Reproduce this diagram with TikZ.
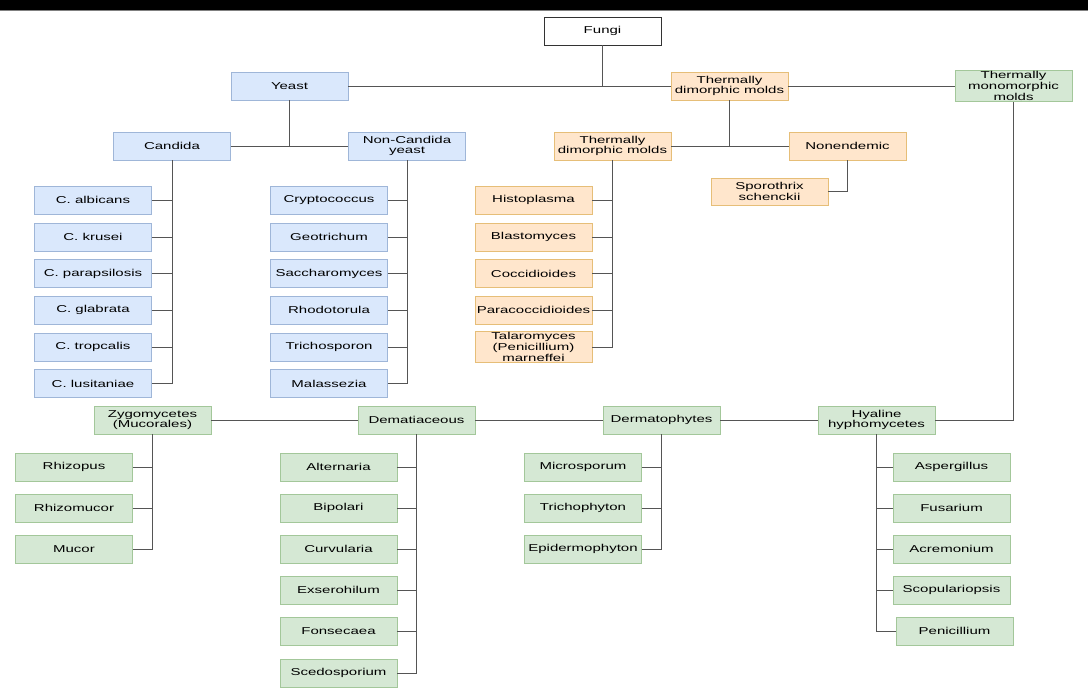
\documentclass[tikz,border=0pt]{standalone}
\usepackage{xcolor}
\usepackage{fontspec}
\newfontfamily\boxfont[FakeStretch=1.5]{Liberation Sans}

\definecolor{yeastfill}{HTML}{DAE8FC}
\definecolor{yeastline}{HTML}{9FB6D8}
\definecolor{dimfill}{HTML}{FFE6CC}
\definecolor{dimline}{HTML}{E6BE78}
\definecolor{monofill}{HTML}{D5E8D4}
\definecolor{monoline}{HTML}{A3C79A}
\definecolor{linkgray}{HTML}{555555}

\tikzset{
  box/.style={draw, line width=0.6pt, minimum width=87.75pt, minimum height=21pt, inner sep=1pt, align=center, font=\boxfont\fontsize{7.5}{6.9}\selectfont},
  rootbox/.style={box, draw=black!80, fill=white},
  yeastbox/.style={box, draw=yeastline, fill=yeastfill},
  dimbox/.style={box, draw=dimline, fill=dimfill},
  monobox/.style={box, draw=monoline, fill=monofill},
  link/.style={draw=linkgray, line width=0.75pt},
}

\begin{document}
\begin{tikzpicture}[x=0.75pt,y=0.75pt,yscale=-1,xscale=1]
\useasboundingbox (0,0) rectangle (1088,690);
%top band
\fill[black] (0,0) rectangle (1088,10);
\draw[gray, line width=0.75pt] (0,10.5) -- (1088,10.5);

% Text Node: root and first level
\node[rootbox] (fungi) at (602.5,31) {Fungi};
\node[yeastbox] (yeast) at (289.5,86) {Yeast};
\node[dimbox] (tdm) at (729.5,86) {Thermally\\dimorphic molds};
\node[monobox] (tmm) at (1013.5,86) {Thermally\\monomorphic\\molds};

% Text Node: yeast branch
\node[yeastbox] (candida) at (172,146) {Candida};
\node[yeastbox] (noncand) at (407,146) {Non-Candida\\yeast};
\node[yeastbox] (calb) at (93,200) {C. albicans};
\node[yeastbox] (ckru) at (93,237) {C. krusei};
\node[yeastbox] (cpar) at (93,273.5) {C. parapsilosis};
\node[yeastbox] (cgla) at (93,310) {C. glabrata};
\node[yeastbox] (ctro) at (93,347) {C. tropcalis};
\node[yeastbox] (clus) at (93,383.5) {C. lusitaniae};
\node[yeastbox] (crypto) at (329,200) {Cryptococcus};
\node[yeastbox] (geo) at (329,237) {Geotrichum};
\node[yeastbox] (sacch) at (329,273.5) {Saccharomyces};
\node[yeastbox] (rhodo) at (329,310) {Rhodotorula};
\node[yeastbox] (tricho) at (329,347) {Trichosporon};
\node[yeastbox] (mala) at (329,383.5) {Malassezia};

% Text Node: dimorphic branch
\node[dimbox] (tdmsub) at (612.5,146) {Thermally\\dimorphic molds};
\node[dimbox] (nonend) at (847.5,146) {Nonendemic};
\node[dimbox, minimum height=20.25pt] (sporo) at (769.5,191.5) {Sporothrix\\schenckii};
\node[dimbox] (histo) at (533.5,200) {Histoplasma};
\node[dimbox] (blasto) at (533.5,237) {Blastomyces};
\node[dimbox] (cocci) at (533.5,273.5) {Coccidioides};
\node[dimbox] (para) at (533.5,310) {Paracoccidioides};
\node[dimbox] (talaro) at (533.5,347) {Talaromyces\\(Penicillium)\\marneffei};

% Text Node: monomorphic branch
\node[monobox] (zygo) at (152.5,420) {Zygomycetes\\(Mucorales)};
\node[monobox] (demat) at (416.5,420) {Dematiaceous};
\node[monobox] (dermato) at (661.5,420) {Dermatophytes};
\node[monobox] (hyal) at (876.5,420) {Hyaline\\hyphomycetes};
\node[monobox] (rhizop) at (74,467) {Rhizopus};
\node[monobox] (rhizom) at (74,508) {Rhizomucor};
\node[monobox] (mucor) at (74,549) {Mucor};
\node[monobox] (alter) at (338.5,467) {Alternaria};
\node[monobox] (bipol) at (338.5,508) {Bipolari};
\node[monobox] (curvu) at (338.5,549) {Curvularia};
\node[monobox] (exser) at (338.5,590) {Exserohilum};
\node[monobox] (fonse) at (338.5,631) {Fonsecaea};
\node[monobox] (scedo) at (338.5,673) {Scedosporium};
\node[monobox] (micro) at (583,467) {Microsporum};
\node[monobox] (trichop) at (583,508) {Trichophyton};
\node[monobox] (epider) at (583,549) {Epidermophyton};
\node[monobox] (asper) at (951.5,467) {Aspergillus};
\node[monobox] (fusar) at (951.5,508) {Fusarium};
\node[monobox] (acrem) at (951.5,549) {Acremonium};
\node[monobox] (scopu) at (951.5,590) {Scopulariopsis};
\node[monobox] (penic) at (954.5,631) {Penicillium};

%Straight Lines: first level
\draw[link] (fungi.south) -- (fungi.south |- yeast.east);
\draw[link] (yeast.east) -- (tdm.west);
\draw[link] (tdm.east) -- (tmm.west);

%Straight Lines: yeast branch
\draw[link] (yeast.south) -- (yeast.south |- candida.east);
\draw[link] (candida.east) -- (noncand.west);
\draw[link] (candida.south) -- (candida.south |- clus.east) -- (clus.east);
\draw[link] (calb.east) -- (candida.south |- calb.east);
\draw[link] (ckru.east) -- (candida.south |- ckru.east);
\draw[link] (cpar.east) -- (candida.south |- cpar.east);
\draw[link] (cgla.east) -- (candida.south |- cgla.east);
\draw[link] (ctro.east) -- (candida.south |- ctro.east);
\draw[link] (noncand.south) -- (noncand.south |- mala.east) -- (mala.east);
\draw[link] (crypto.east) -- (noncand.south |- crypto.east);
\draw[link] (geo.east) -- (noncand.south |- geo.east);
\draw[link] (sacch.east) -- (noncand.south |- sacch.east);
\draw[link] (rhodo.east) -- (noncand.south |- rhodo.east);
\draw[link] (tricho.east) -- (noncand.south |- tricho.east);

%Straight Lines: dimorphic branch
\draw[link] (tdm.south) -- (tdm.south |- tdmsub.east);
\draw[link] (tdmsub.east) -- (nonend.west);
\draw[link] (nonend.south) -- (nonend.south |- sporo.east) -- (sporo.east);
\draw[link] (tdmsub.south) -- (tdmsub.south |- talaro.east) -- (talaro.east);
\draw[link] (histo.east) -- (tdmsub.south |- histo.east);
\draw[link] (blasto.east) -- (tdmsub.south |- blasto.east);
\draw[link] (cocci.east) -- (tdmsub.south |- cocci.east);
\draw[link] (para.east) -- (tdmsub.south |- para.east);

%Straight Lines: monomorphic branch
\draw[link] (tmm.south) -- (tmm.south |- hyal.east) -- (hyal.east);
\draw[link] (zygo.east) -- (demat.west);
\draw[link] (demat.east) -- (dermato.west);
\draw[link] (dermato.east) -- (hyal.west);
\draw[link] (zygo.south) -- (zygo.south |- mucor.east) -- (mucor.east);
\draw[link] (rhizop.east) -- (zygo.south |- rhizop.east);
\draw[link] (rhizom.east) -- (zygo.south |- rhizom.east);
\draw[link] (demat.south) -- (demat.south |- scedo.east) -- (scedo.east);
\draw[link] (alter.east) -- (demat.south |- alter.east);
\draw[link] (bipol.east) -- (demat.south |- bipol.east);
\draw[link] (curvu.east) -- (demat.south |- curvu.east);
\draw[link] (exser.east) -- (demat.south |- exser.east);
\draw[link] (fonse.east) -- (demat.south |- fonse.east);
\draw[link] (dermato.south) -- (dermato.south |- epider.east) -- (epider.east);
\draw[link] (micro.east) -- (dermato.south |- micro.east);
\draw[link] (trichop.east) -- (dermato.south |- trichop.east);
\draw[link] (hyal.south) -- (hyal.south |- penic.west) -- (penic.west);
\draw[link] (asper.west) -- (hyal.south |- asper.west);
\draw[link] (fusar.west) -- (hyal.south |- fusar.west);
\draw[link] (acrem.west) -- (hyal.south |- acrem.west);
\draw[link] (scopu.west) -- (hyal.south |- scopu.west);

\end{tikzpicture}
\end{document}
